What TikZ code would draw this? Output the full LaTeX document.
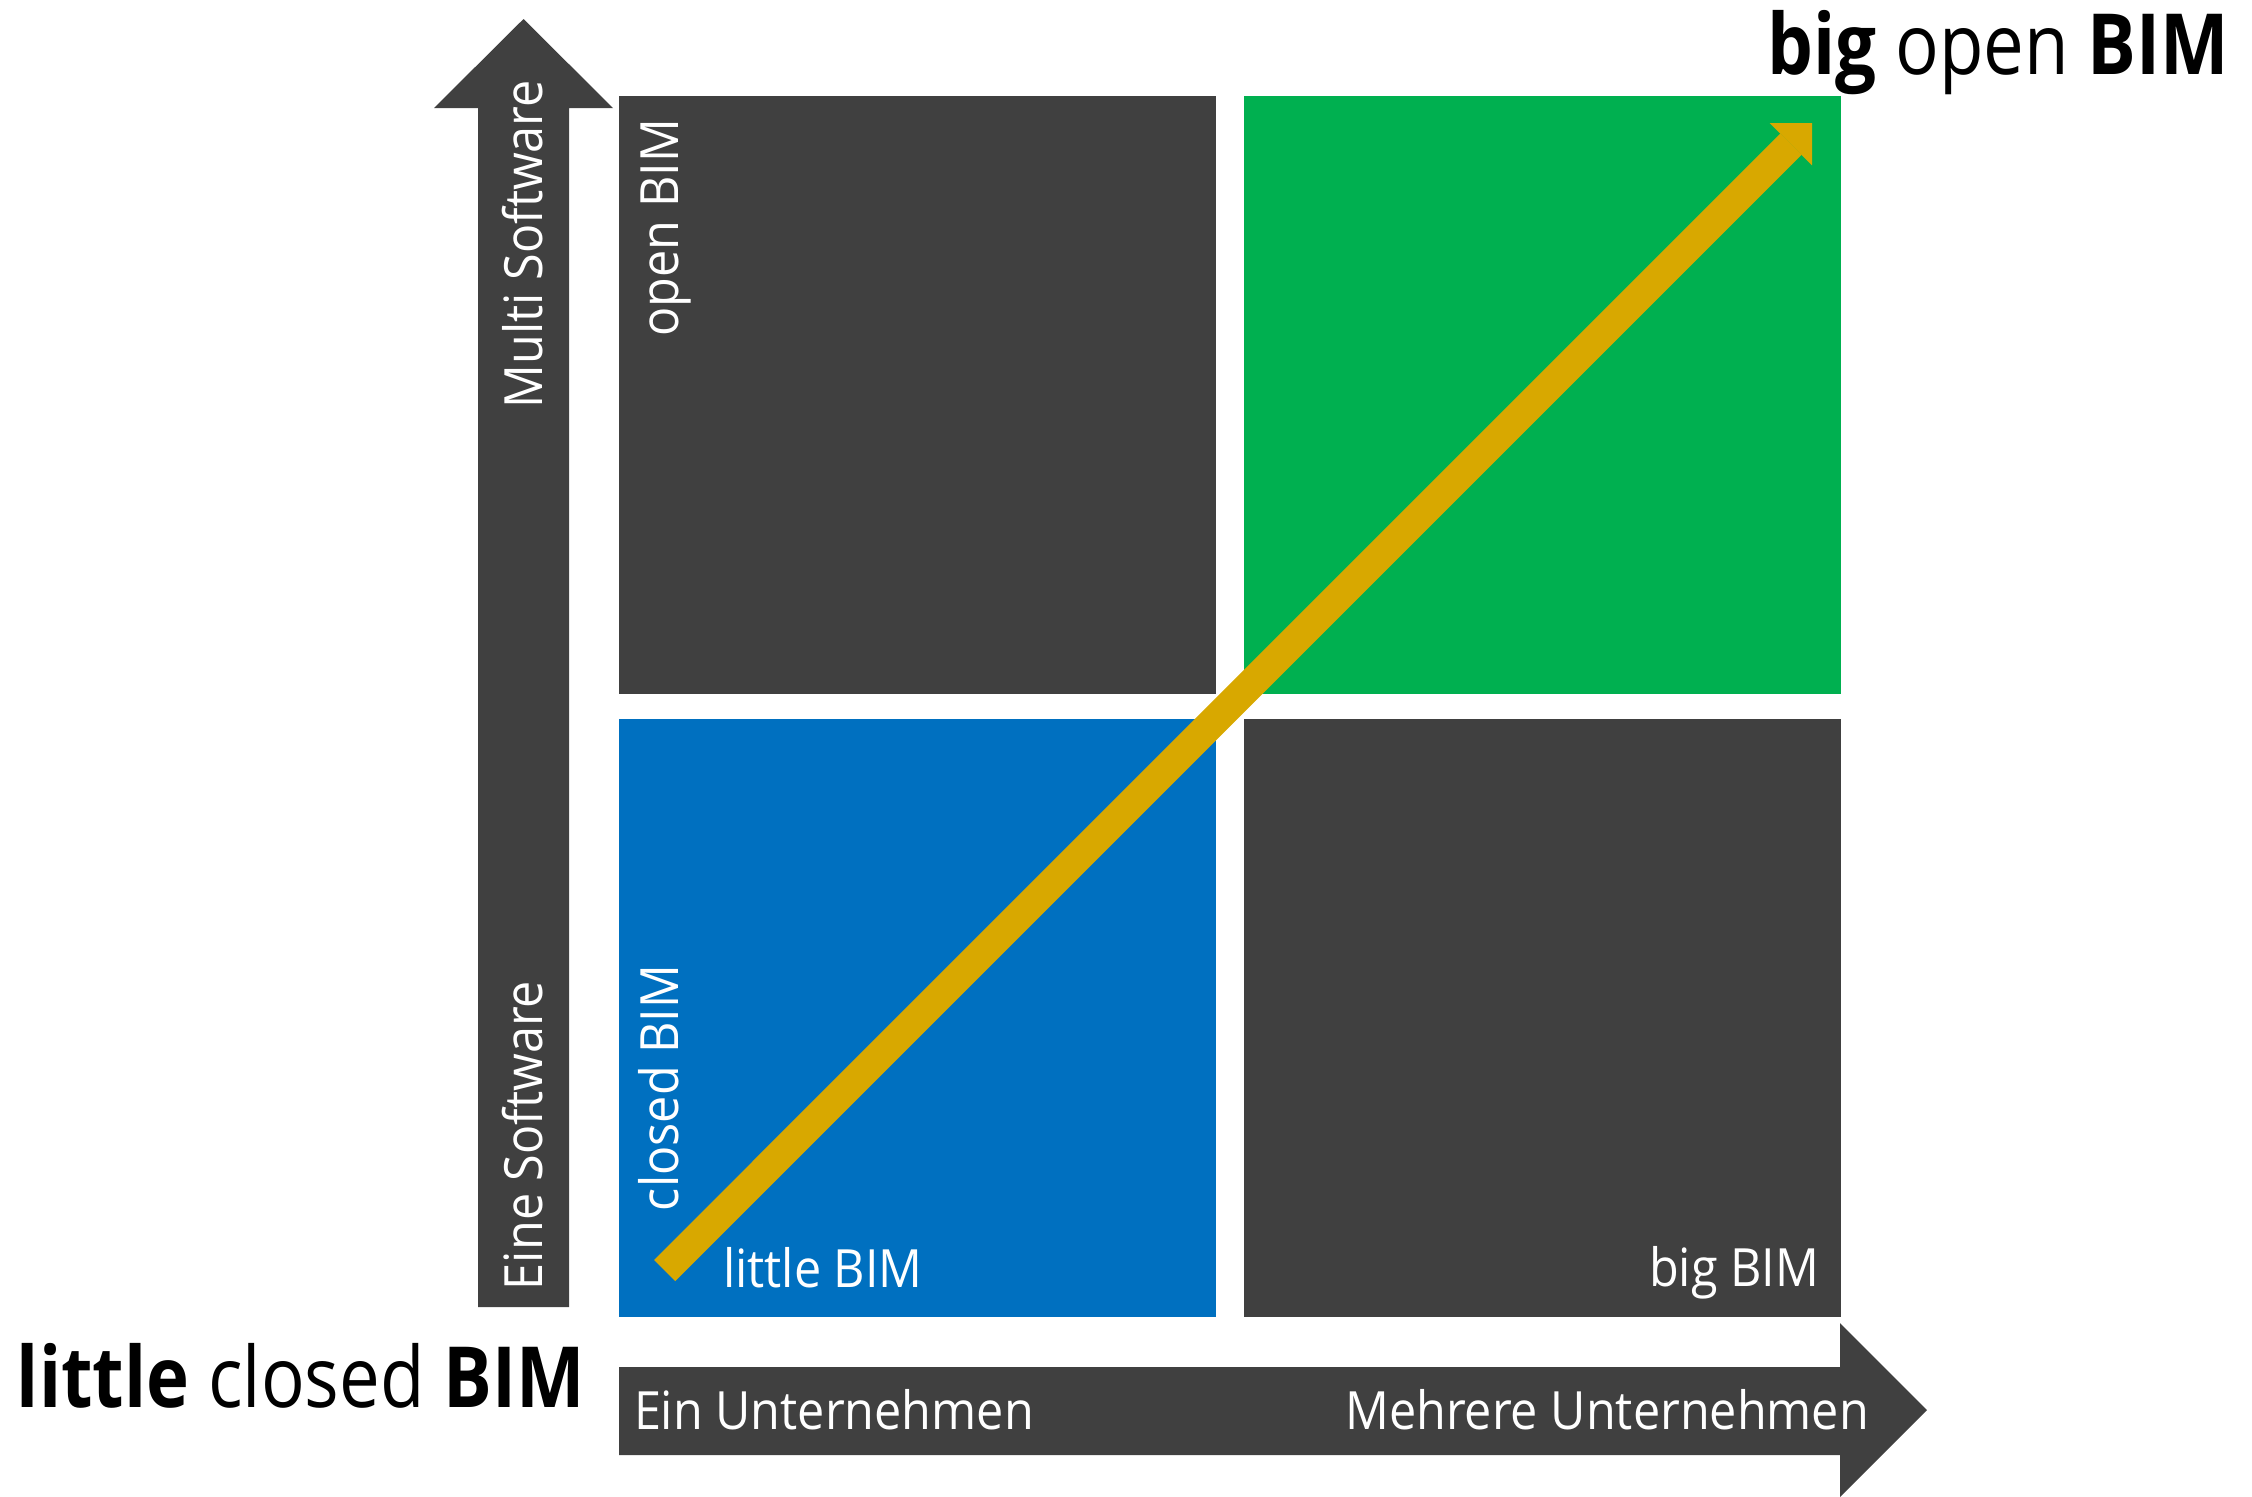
\documentclass[tikz,border=0pt]{standalone}
\usepackage{fontspec}
\setmainfont{Open Sans}[FakeStretch=0.92]
\newfontfamily\titlefont{Open Sans}[FakeStretch=0.86]
\usetikzlibrary{arrows.meta}
\definecolor{dgray}{HTML}{404040}
\definecolor{qgreen}{HTML}{00B050}
\definecolor{qblue}{HTML}{0070C0}
\definecolor{qgold}{HTML}{D8A800}
\tikzset{
  quad/.style={rectangle, inner sep=0pt, outer sep=0pt, minimum width=5.97cm, minimum height=5.98cm, anchor=north west},
  lab/.style={inner sep=0pt, outer sep=0pt, text=white, font=\fontsize{15}{18}\selectfont},
  ttl/.style={inner sep=0pt, outer sep=0pt, text=black, font=\titlefont\fontsize{24}{28}\selectfont},
  axisarrow/.style={fill=dgray},
  diag/.style={qgold, line width=0.3cm, -{Triangle[length=0.3cm, width=0.6cm, line width=0pt]}}
}
\begin{document}
\begin{tikzpicture}[x=0.01cm, y=-0.01cm]
\useasboundingbox (0,0) rectangle (2252,1496);
% quadrants
\node[quad, fill=dgray]  (ol) at (619,96) {};
\node[quad, fill=qgreen] (or) at (1244,96) {};
\node[quad, fill=qblue]  (ul) at (619,719) {};
\node[quad, fill=dgray]  (ur) at (1244,719) {};
% vertical axis arrow
\fill[axisarrow] (478,1307) -- (478,108) -- (434,108) -- (523.5,19) -- (613,108) -- (569,108) -- (569,1307) -- cycle;
% horizontal axis arrow
\fill[axisarrow] (619,1367) -- (1840,1367) -- (1840,1323) -- (1927,1410) -- (1840,1497) -- (1840,1455) -- (619,1455) -- cycle;
% axis labels
\node[lab, anchor=base west] (ein) at (634,1429) {Ein Unternehmen};
\node[lab, anchor=base east] (mehr) at (1869,1429) {Mehrere Unternehmen};
\node[lab, rotate=90, anchor=base west] (eine) at (542,1290) {Eine Software};
\node[lab, rotate=90, anchor=base east] (multi) at (542,80) {Multi Software};
% quadrant labels
\node[lab, rotate=90, anchor=base east] (openl) at (678,119) {open BIM};
\node[lab, rotate=90, anchor=base west] (closedl) at (678,1211) {closed BIM};
\node[lab, anchor=base west] (littlel) at (723,1287) {little BIM};
\node[lab, anchor=base east] (bigl) at (1819,1286) {big BIM};
% titles
\node[ttl, anchor=base west] (lcb) at (17,1407) {\textbf{little} closed \textbf{BIM}};
\node[ttl, anchor=base east] (bob) at (2229,74) {\textbf{big} open \textbf{BIM}};
% diagonal arrow
\coordinate (tail) at (664.7,1270.5);
\coordinate (tip) at (1812,123);
\draw[diag] (tail) -- (tip);
\end{tikzpicture}
\end{document}
